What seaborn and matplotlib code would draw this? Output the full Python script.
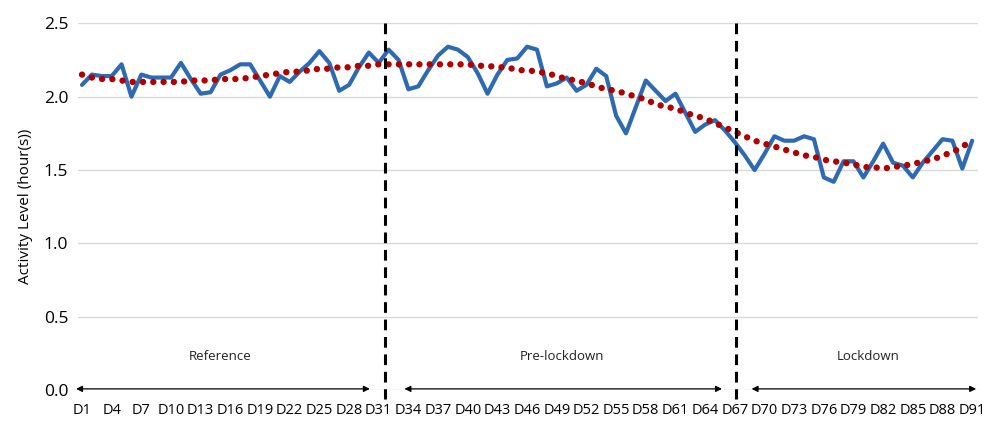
import numpy as np
import pandas as pd
import matplotlib
matplotlib.use('Agg')
import matplotlib.pyplot as plt
import seaborn as sns

# ── data ────────────────────────────────────────────────────
activity = [
    2.08, 2.15, 2.14, 2.14, 2.22, 2.00, 2.15, 2.13, 2.13, 2.13,
    2.23, 2.12, 2.02, 2.03, 2.15, 2.18, 2.22, 2.22, 2.11, 2.00,
    2.14, 2.10, 2.17, 2.23, 2.31, 2.23, 2.04, 2.08, 2.20, 2.30,
    2.23, 2.32, 2.25, 2.05, 2.07, 2.18, 2.28, 2.34, 2.32, 2.27,
    2.16, 2.02, 2.15, 2.25, 2.26, 2.34, 2.32, 2.07, 2.09, 2.13,
    2.04, 2.08, 2.19, 2.14, 1.87, 1.75, 1.93, 2.11, 2.04, 1.97,
    2.02, 1.89, 1.76, 1.81, 1.84, 1.77, 1.69, 1.60, 1.50, 1.61,
    1.73, 1.70, 1.70, 1.73, 1.71, 1.45, 1.42, 1.56, 1.56, 1.45,
    1.56, 1.68, 1.55, 1.53, 1.45, 1.55, 1.63, 1.71, 1.70, 1.51,
    1.70,
]
trend = [
    2.15, 2.13, 2.12, 2.12, 2.11, 2.10, 2.10, 2.10, 2.10, 2.10,
    2.10, 2.11, 2.11, 2.11, 2.12, 2.12, 2.12, 2.13, 2.14, 2.15,
    2.16, 2.17, 2.17, 2.18, 2.19, 2.19, 2.20, 2.20, 2.21, 2.21,
    2.22, 2.22, 2.22, 2.22, 2.22, 2.22, 2.22, 2.22, 2.22, 2.22,
    2.21, 2.21, 2.20, 2.20, 2.18, 2.18, 2.17, 2.16, 2.14, 2.12,
    2.11, 2.09, 2.07, 2.05, 2.04, 2.02, 2.00, 1.98, 1.95, 1.93,
    1.92, 1.89, 1.87, 1.85, 1.82, 1.79, 1.76, 1.73, 1.70, 1.68,
    1.66, 1.64, 1.62, 1.60, 1.59, 1.57, 1.56, 1.55, 1.54, 1.52,
    1.52, 1.51, 1.52, 1.53, 1.54, 1.56, 1.57, 1.60, 1.62, 1.66,
    1.70,
]
days = list(range(1, len(activity) + 1))
day_labels = [f'D{d}' for d in days]

phase_names = ['Reference', 'Pre-lockdown', 'Lockdown']
phase_spans = [(0.4, 30.1), (33.6, 65.7), (68.7, 91.4)]
phase_label_x = [15.0, 49.5, 80.5]
phase_breaks = [31.6, 67.1]

df = pd.DataFrame({'day': days, 'activity': activity, 'trend': trend})

sns.set_style('white')
plt.rcParams['font.family'] = ['Open Sans', 'DejaVu Sans']

fig = plt.figure(figsize=(9.88, 4.22), dpi=100)
ax = fig.add_axes([0.079, 0.075, 0.911, 0.870])

for v in np.arange(0, 2.51, 0.5):
    ax.axhline(v, color='#D9D9D9', lw=1.0, zorder=0)

sns.lineplot(data=df, x='day', y='activity', color='#2E6AB1', lw=3.0,
             ax=ax, zorder=3)
sns.lineplot(data=df, x='day', y='trend', color='#B00000', lw=4.6,
             ax=ax, zorder=4, dashes=False)
ax.lines[-1].set_linestyle((0, (0.01, 1.6)))
ax.lines[-1].set_dash_capstyle('round')

# phase boundaries
for xb in phase_breaks:
    ax.plot([xb, xb], [2.5, -0.06], color='black', lw=2.2,
            linestyle=(0, (3.5, 2.2)), clip_on=False, zorder=5)

# double-headed arrows and phase names
for name, (x0, x1), lx in zip(phase_names, phase_spans, phase_label_x):
    ax.annotate('', xy=(x1, 0.01), xytext=(x0, 0.01),
                arrowprops=dict(arrowstyle='<|-|>', color='black', lw=0.9,
                                mutation_scale=9, shrinkA=0, shrinkB=0),
                annotation_clip=False, zorder=6)
    ax.text(lx, 0.23, name, ha='center', va='center', fontsize=9.5,
            color='#222222')

ax.set_xlim(0.6, 91.6)
ax.set_ylim(0, 2.5)
ax.set_yticks(np.arange(0, 2.51, 0.5))
ax.set_yticklabels([f'{v:.1f}' for v in np.arange(0, 2.51, 0.5)])
ax.set_xticks(days[::3])
ax.set_xticklabels(day_labels[::3])
ax.tick_params(axis='x', length=0, pad=9, labelsize=10.5, colors='black')
ax.tick_params(axis='y', length=0, pad=7, labelsize=12.5, colors='black')
ax.set_xlabel('')
ax.set_ylabel('Activity Level (hour(s))', fontsize=11, labelpad=8,
              color='black')
sns.despine(ax=ax, left=True, bottom=True)

fig.savefig('out.png', dpi=100)
